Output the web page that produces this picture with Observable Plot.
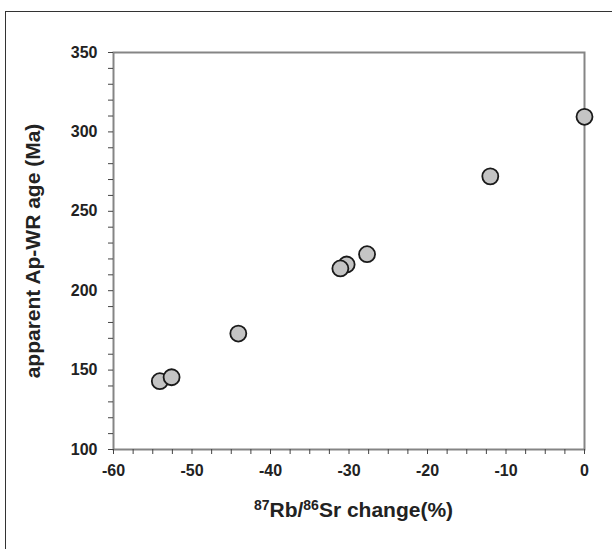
<!DOCTYPE html>
<html><head><meta charset="utf-8">
<script src="https://cdn.jsdelivr.net/npm/d3@7"></script>
<script src="https://cdn.jsdelivr.net/npm/@observablehq/plot@0.6"></script>
<style>
html,body{margin:0;padding:0;background:#fff;overflow:hidden;}
#wrap{position:relative;width:612px;height:549px;}
#border{position:absolute;left:5px;top:11px;width:700px;height:700px;border-left:1px solid #333;border-top:1px solid #333;}
#chart{position:absolute;left:0;top:0;}
</style></head><body>
<div id="wrap"><div id="border"></div><div id="chart"></div></div>
<script>
// data (draw order preserves overlaps)
const changePct = [-54.1, -52.6, -44.1, -30.3, -31.1, -27.7, -12.0, 0];
const ageMa     = [143, 145.5, 173, 216.5, 214, 223, 272, 309.5];
const xTicks = d3.range(-60, 0.001, 2.5);
const yTicks = d3.range(100, 350.001, 10);
const xMajor = [-60, -50, -40, -30, -20, -10, 0];
const yMajor = [100, 150, 200, 250, 300, 350];
const yLabel = "apparent Ap-WR age (Ma)";
const xLabelParts = [["87", true], ["Rb/", false], ["86", true], ["Sr change(%)", false]];

const data = changePct.map((c, i) => ({change: c, age: ageMa[i]}));

const chart = Plot.plot({
  width: 612, height: 549,
  marginLeft: 113, marginRight: 28, marginTop: 52, marginBottom: 100,
  x: {domain: [-60, 0]},
  y: {domain: [100, 350]},
  style: {fontFamily: "'Liberation Sans', Arial, sans-serif", fontWeight: "bold", fontSize: "16px", color: "#222", background: "transparent"},
  marks: [
    Plot.frame({stroke: "#858585", strokeWidth: 2}),
    Plot.axisX({ticks: xTicks, tickFormat: d => xMajor.includes(d) ? String(d) : "", tickSize: 5, tickPadding: 10, label: null, stroke: "#444", fill: "#222"}),
    Plot.axisY({ticks: yTicks, tickFormat: d => yMajor.includes(d) ? String(d) : "", tickSize: 5, tickPadding: 11, label: null, stroke: "#444", fill: "#222"}),
    Plot.dot(data, {x: "change", y: "age", r: 8, fill: "#c4c4c4", stroke: "#1a1a1a", strokeWidth: 1.8}),
    Plot.text([yLabel], {frameAnchor: "left", textAnchor: "middle", rotate: -90, dx: -80, fontSize: 21, fontWeight: "bold", fill: "#222"})
  ]
});
document.getElementById("chart").append(chart);

const xs = chart.scale("x");
const cx = (xs.range[0] + xs.range[1]) / 2 + 5;
const t = d3.select(chart).append("text")
  .attr("x", cx).attr("y", 517)
  .attr("text-anchor", "middle")
  .attr("font-size", 21).attr("font-weight", "bold")
  .attr("fill", "#222");
xLabelParts.forEach(([s, sup], i) => {
  const ts = t.append("tspan").text(s);
  if (sup) ts.attr("font-size", 14).attr("dy", -7);
  else if (i > 0) ts.attr("dy", 7);
});
</script>
</body></html>
